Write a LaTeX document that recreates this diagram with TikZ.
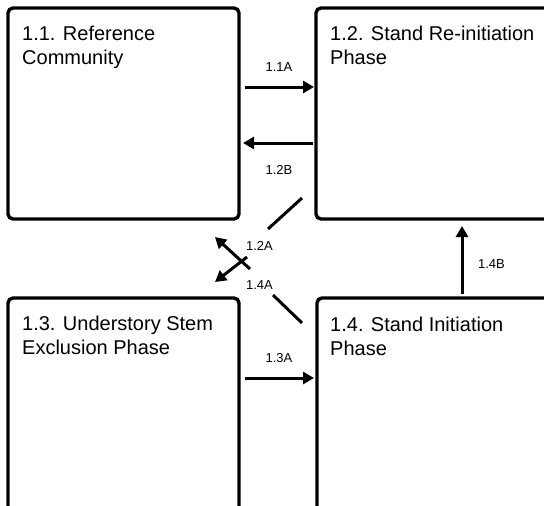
\documentclass[tikz,border=0pt]{standalone}
\usepackage{fontspec}
\setmainfont{Liberation Sans}
\usetikzlibrary{arrows.meta,calc}
\begin{document}
\begin{tikzpicture}[x=1pt,y=-1pt,
  box/.style={draw=black,line width=3.4pt,rounded corners=5pt,inner sep=0pt,outer sep=0pt,anchor=north west,fill=none},
  boxtext/.style={font=\fontsize{20}{24}\selectfont,align=left,anchor=base west,inner sep=0pt},
  lbl/.style={font=\fontsize{13}{15}\selectfont,inner sep=0pt},
  arr/.style={line width=3pt,-{Triangle[length=11pt,width=12pt]}},
  plain/.style={line width=3pt}]
\useasboundingbox (0,0) rectangle (544,506);
\begin{scope}
\clip (0,0) rectangle (544,506);
\node[box,minimum width=231pt,minimum height=211pt] (b11) at (8,8) {};
\node[box,minimum width=260pt,minimum height=211pt] (b12) at (316,8) {};
\node[box,minimum width=231pt,minimum height=250pt] (b13) at (8,298) {};
\node[box,minimum width=260pt,minimum height=250pt] (b14) at (317,298) {};
\end{scope}
% anchor base west = baseline of the last (second) line
\node[boxtext] (t11) at ($(b11.north west)+(14,56)$) {1.1. Reference\\Community};
\node[boxtext] (t12) at ($(b12.north west)+(14,56)$) {1.2. Stand Re-initiation\\Phase};
\node[boxtext] (t13) at ($(b13.north west)+(14,56)$) {1.3. Understory Stem\\Exclusion Phase};
\node[boxtext] (t14) at ($(b14.north west)+(13,57)$) {1.4. Stand Initiation\\Phase};
% horizontal and vertical connectors
\draw[arr] ($(b11.north east)+(6,79)$) -- ($(b12.north west)+(-2,79)$);
\draw[arr] ($(b12.north west)+(-3,135)$) -- ($(b11.north east)+(4,135)$);
\draw[arr] ($(b13.north east)+(6,80)$) -- ($(b14.north west)+(-3,80)$);
\draw[arr] ($(b14.north west)+(145,-4)$) -- ($(b12.south west)+(146,7)$);
% diagonal connectors
\coordinate (d2a) at ($(b12.south west)+(-14,-21)$);
\coordinate (d2b) at ($(b12.south west)+(-48,10)$);
\coordinate (d2c) at ($(b12.south west)+(-69,38)$);
\coordinate (d2d) at ($(b12.south west)+(-101,63)$);
\draw[plain] (d2a) -- (d2b);
\draw[arr] (d2c) -- (d2d);
\coordinate (d4a) at ($(b14.north west)+(-15,25)$);
\coordinate (d4b) at ($(b14.north west)+(-44,-3)$);
\coordinate (d4c) at ($(b14.north west)+(-67,-29)$);
\coordinate (d4d) at ($(b14.north west)+(-102,-61)$);
\draw[plain] (d4a) -- (d4b);
\draw[arr] (d4c) -- (d4d);
% labels
\node[lbl] (l11a) at (279,67) {1.1A};
\node[lbl] (l12b) at (279,170) {1.2B};
\node[lbl] (l13a) at (279,358) {1.3A};
\node[lbl] (l14b) at (491.5,264) {1.4B};
\node[lbl] (l12a) at (259.5,246) {1.2A};
\node[lbl] (l14a) at (259.5,285.5) {1.4A};
\end{tikzpicture}
\end{document}
